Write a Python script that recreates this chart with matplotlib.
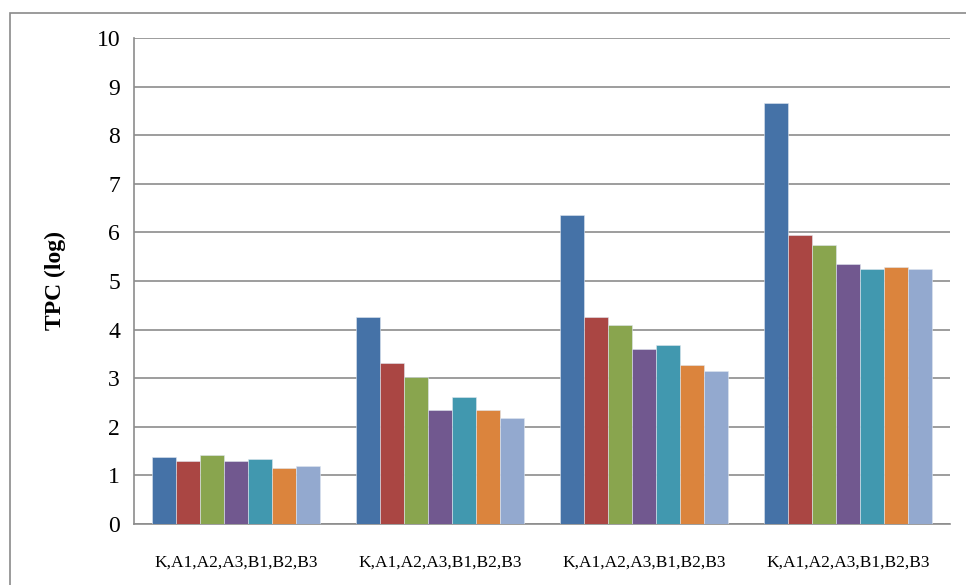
import numpy as np
import matplotlib.pyplot as plt
from matplotlib.patches import Rectangle

# TPC (log) per group: K, A1, A2, A3, B1, B2, B3
group_labels = ['K,A1,A2,A3,B1,B2,B3'] * 4
series_names = ['K', 'A1', 'A2', 'A3', 'B1', 'B2', 'B3']
K  = [1.38, 4.25, 6.36, 8.66]
A1 = [1.30, 3.31, 4.25, 5.94]
A2 = [1.42, 3.02, 4.10, 5.75]
A3 = [1.30, 2.35, 3.60, 5.34]
B1 = [1.34, 2.61, 3.68, 5.25]
B2 = [1.15, 2.35, 3.27, 5.29]
B3 = [1.19, 2.18, 3.14, 5.25]
series = [K, A1, A2, A3, B1, B2, B3]
colors = ['#4572A7', '#AA4643', '#89A54E', '#71588F', '#4198AF', '#DB843D', '#93A9CF']

plt.rcParams['font.family'] = ['Liberation Serif', 'DejaVu Serif']

fig = plt.figure(figsize=(9.66, 5.85), dpi=100)
# outer chart frame
fig.patches.append(Rectangle((10 / 966, -0.05), 1.0, (585 - 13) / 585 + 0.05,
                             transform=fig.transFigure, fill=False,
                             edgecolor='#8a8a8a', linewidth=1.2))

ax = fig.add_axes([134 / 966, 61 / 585, 816 / 966, 486 / 585])

bar_w = 0.1176
x = np.arange(len(group_labels)) + 0.5
for i, (vals, c) in enumerate(zip(series, colors)):
    offs = (i - 3) * bar_w
    ax.bar(x + offs, vals, width=bar_w, color=c, edgecolor='#dfe6ef',
           linewidth=0.4, zorder=3, label=series_names[i])

ax.set_xlim(0, 4)
ax.set_ylim(0, 10)
ax.set_yticks(range(0, 11))
ax.set_xticks(x)
ax.set_xticklabels(group_labels, fontsize=12.5)
ax.tick_params(axis='x', length=0, pad=22)
ax.tick_params(axis='y', length=0, pad=10, labelsize=17)

ax.grid(axis='y', color='#8c8c8c', linewidth=1.2, zorder=0)
for s in ['top', 'right']:
    ax.spines[s].set_visible(False)
for s in ['left', 'bottom']:
    ax.spines[s].set_color('#8c8c8c')
    ax.spines[s].set_linewidth(1.2)

ax.set_ylabel('TPC (log)', fontsize=17, fontweight='bold', labelpad=22)

fig.savefig('out.png', dpi=100)
